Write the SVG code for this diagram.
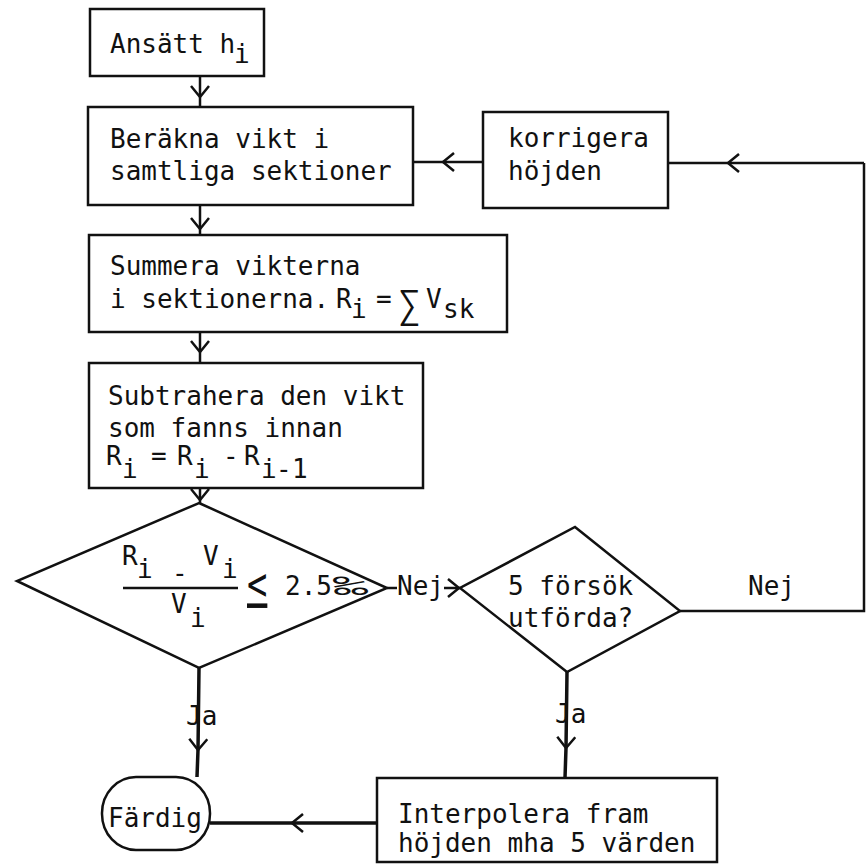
<svg xmlns="http://www.w3.org/2000/svg" width="867" height="867" viewBox="0 0 867 867">
<style>
.box{fill:none;stroke:#111;stroke-width:2.5}
.ln{fill:none;stroke:#111;stroke-width:2.5}
.thick{stroke-width:3.5}
text{font-family:"DejaVu Sans Mono","Liberation Mono",monospace;font-size:26px;fill:#111}
</style>
<defs>
<marker id="chev" viewBox="0 0 14 20" refX="12" refY="10" markerWidth="14" markerHeight="20" markerUnits="userSpaceOnUse" orient="auto">
<path d="M1,1 L12,10 L1,19" fill="none" stroke="#111" stroke-width="2.5"/>
</marker>
</defs>
<rect width="867" height="867" fill="#fff"/>
<g id="connectors">
<path class="ln" d="M200,76 L200,97 L200,107" marker-mid="url(#chev)"/>
<path class="ln" d="M200,205 L200,229 L200,235" marker-mid="url(#chev)"/>
<path class="ln" d="M200,332 L200,352 L200,363" marker-mid="url(#chev)"/>
<path class="ln" d="M200,488 L200,500 L200,503" marker-mid="url(#chev)"/>
<path class="ln thick" d="M199,668 L198,750 L197,777" marker-mid="url(#chev)"/>
<path class="ln thick" d="M567,672 L566,748 L565,778" marker-mid="url(#chev)"/>
<path class="ln" d="M387,588 L397,588"/>
<path class="ln" d="M444,588 L459,588 L460,588" marker-mid="url(#chev)"/>
<path class="ln" d="M483,162 L443,162 L413,162" marker-mid="url(#chev)"/>
<path class="ln" d="M680,611 L864,611 L864,163"/>
<path class="ln" d="M864,163 L728,163 L668,163" marker-mid="url(#chev)"/>
<path class="ln thick" d="M377,823 L292,823 L210,823" marker-mid="url(#chev)"/>
<text x="397" y="595">Nej</text>
<text x="748" y="595">Nej</text>
<text x="186" y="725">Ja</text>
<text x="555" y="723">Ja</text>
</g>
<g id="n-ansatt">
<rect class="box" x="90" y="9" width="174" height="67"/>
<text x="110" y="53">Ansätt h</text>
<text x="234" y="63">i</text>
</g>
<g id="n-berakna">
<rect class="box" x="88" y="107" width="325" height="98"/>
<text x="110" y="148">Beräkna vikt i</text>
<text x="110" y="180">samtliga sektioner</text>
</g>
<g id="n-korrigera">
<rect class="box" x="483" y="112" width="185" height="96"/>
<text x="508" y="147">korrigera</text>
<text x="508" y="180">höjden</text>
</g>
<g id="n-summera">
<rect class="box" x="89" y="235" width="418" height="97"/>
<text x="110" y="275">Summera vikterna</text>
<text x="110" y="308">i sektionerna.</text>
<text x="336" y="308">R</text>
<text x="351" y="318">i</text>
<text x="376" y="308">=</text>
<text x="398" y="318" style="font-size:38px">∑</text>
<text x="426" y="308">V</text>
<text x="443" y="318">sk</text>
</g>
<g id="n-subtrahera">
<rect class="box" x="89" y="363" width="334" height="125"/>
<text x="108" y="405">Subtrahera den vikt</text>
<text x="108" y="437">som fanns innan</text>
<text x="106" y="465">R</text>
<text x="122" y="478">i</text>
<text x="151" y="465">=</text>
<text x="177" y="465">R</text>
<text x="194" y="478">i</text>
<text x="223" y="465">-</text>
<text x="244" y="465">R</text>
<text x="261" y="478">i</text>
<text x="276" y="478">-</text>
<text x="292" y="478">1</text>
</g>
<g id="n-villkor">
<polygon class="box" points="199,503 387,588 199,668 17,581"/>
<text x="122" y="565">R</text>
<text x="137" y="578">i</text>
<text x="172" y="582">-</text>
<text x="203" y="565">V</text>
<text x="222" y="578">i</text>
<line class="ln" x1="123" y1="588" x2="238" y2="588"/>
<text x="171" y="613">V</text>
<text x="190" y="627">i</text>
<text transform="translate(247,600) scale(1.3,1.75)" style="text-decoration:underline">&lt;</text>
<text x="285" y="595">2.5</text>
<text x="333" y="595" textLength="35" lengthAdjust="spacingAndGlyphs">‰</text>
</g>
<g id="n-forsok">
<polygon class="box" points="575,527 680,611 567,672 460,588"/>
<text x="508" y="595">5 försök</text>
<text x="508" y="627">utförda?</text>
</g>
<g id="n-fardig">
<rect class="box" x="102" y="777" width="108" height="73" rx="34" ry="36"/>
<text x="108" y="827">Färdig</text>
</g>
<g id="n-interpolera">
<rect class="box" x="377" y="778" width="340" height="84"/>
<text x="398" y="823">Interpolera fram</text>
<text x="398" y="852">höjden mha 5 värden</text>
</g>
</svg>
